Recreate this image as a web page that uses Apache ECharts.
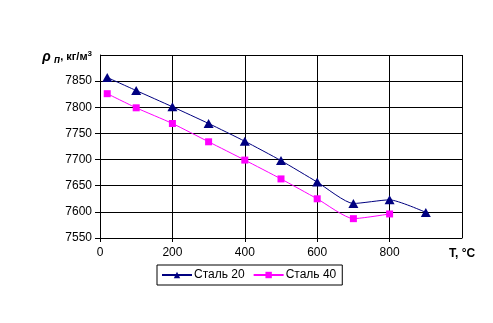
<!DOCTYPE html>
<html>
<head>
<meta charset="utf-8">
<script src="https://cdn.jsdelivr.net/npm/echarts@6/dist/echarts.min.js"></script>
<style>
  html, body { margin: 0; padding: 0; background: #fff; }
  #chart { width: 493px; height: 323px; }
</style>
</head>
<body>
<div id="chart"></div>
<script>
// Density of steels vs temperature
const temps20 = [20, 100, 200, 300, 400, 500, 600, 700, 800, 900];
const steel20 = [7857, 7832, 7801, 7769, 7735, 7698, 7657, 7616, 7623, 7599];
const temps40 = [20, 100, 200, 300, 400, 500, 600, 700, 800];
const steel40 = [7826, 7799, 7769, 7734, 7699, 7663, 7625, 7587, 7596];
const seriesNames = ['Сталь 20', 'Сталь 40'];

const font = 'Liberation Sans, Arial, sans-serif';
const pairs = (xs, ys) => xs.map((x, i) => [x, ys[i]]);

const chart = echarts.init(document.getElementById('chart'));
chart.setOption({
  animation: false,
  backgroundColor: '#fff',
  grid: { left: 100, top: 55, right: 31, bottom: 85, show: false },
  legend: {
    data: seriesNames,
    left: 157, top: 265,
    width: 178, height: 21,
    padding: [4, 6, 4, 4],
    itemGap: 8,
    itemWidth: 30, itemHeight: 8,
    borderColor: '#000', borderWidth: 1,
    textStyle: { fontFamily: font, fontSize: 12, color: '#000', padding: [0, 0, 0, -3] }
  },
  xAxis: {
    type: 'value', min: 0, max: 1000, interval: 200,
    axisLine: { lineStyle: { color: '#000', width: 1 } },
    axisTick: { show: true, length: 4, lineStyle: { color: '#000' } },
    splitLine: { show: true, lineStyle: { color: '#000', width: 1 } },
    axisLabel: { showMaxLabel: false, fontFamily: font, fontSize: 12, color: '#000', margin: 9,
      formatter: v => String(v) },
    name: 'T, °C', nameLocation: 'end', nameGap: -13,
    nameTextStyle: { fontFamily: font, fontSize: 12, fontWeight: 'bold', color: '#000',
      verticalAlign: 'top', padding: [10, 0, 0, 0] }
  },
  yAxis: {
    type: 'value', min: 7550, max: 7900, interval: 50,
    axisLine: { show: true, lineStyle: { color: '#000', width: 1 } },
    axisTick: { show: true, length: 5, lineStyle: { color: '#000' } },
    splitLine: { show: true, lineStyle: { color: '#000', width: 1 } },
    axisLabel: { showMaxLabel: false, fontFamily: font, fontSize: 12, color: '#000', margin: 8,
      formatter: v => String(v) },
    name: '{r|ρ} {s|п}{b|, кг/м}{sup|3}', nameLocation: 'end', nameGap: -2,
    nameTextStyle: {
      align: 'right', verticalAlign: 'middle', padding: [0, 8, 0, 0],
      rich: {
        r: { fontFamily: font, fontSize: 14, fontWeight: 'bold', fontStyle: 'italic', color: '#000' },
        s: { fontFamily: font, fontSize: 10, fontWeight: 'bold', fontStyle: 'italic', color: '#000', padding: [6, 0, 0, 0] },
        b: { fontFamily: font, fontSize: 11, fontWeight: 'bold', color: '#000' },
        sup: { fontFamily: font, fontSize: 8, fontWeight: 'bold', color: '#000', padding: [0, 0, 7, 0] }
      }
    }
  },
  series: [
    {
      name: seriesNames[0], type: 'line', smooth: 0.2,
      data: pairs(temps20, steel20),
      symbol: 'triangle', symbolSize: [10, 9],
      lineStyle: { color: '#000080', width: 1 },
      itemStyle: { color: '#000080' }
    },
    {
      name: seriesNames[1], type: 'line', smooth: 0.2,
      data: pairs(temps40, steel40),
      symbol: 'rect', symbolSize: 7,
      lineStyle: { color: '#ff00ff', width: 1 },
      itemStyle: { color: '#ff00ff' }
    }
  ]
});
</script>
</body>
</html>
